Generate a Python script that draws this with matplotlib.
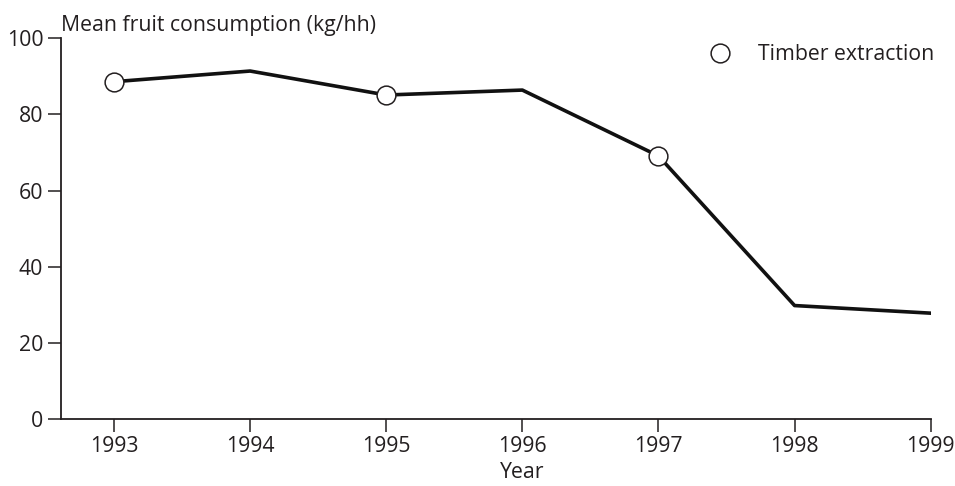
import matplotlib.pyplot as plt
from matplotlib.lines import Line2D

years = [1993, 1994, 1995, 1996, 1997, 1998, 1999]
consumption = [88.6, 91.4, 85.1, 86.4, 69.1, 29.8, 27.8]
timber_years = [1993, 1995, 1997]
timber_values = [88.6, 85.1, 69.1]

ink = '#231f20'
fs = 15.3
plt.rcParams['font.family'] = ['Open Sans', 'DejaVu Sans']
plt.rcParams['font.size'] = fs

fig = plt.figure(figsize=(9.55, 4.86), dpi=100)
ax = fig.add_axes([60.7 / 955, 1 - 419 / 486, 870 / 955, (419 - 38.3) / 486])

ax.plot(years, consumption, color='#111111', lw=2.6, zorder=2)
ax.plot(timber_years, timber_values, ls='none', marker='o', ms=13.5,
        mfc='white', mec=ink, mew=1.1, zorder=3)

ax.set_xlim(1993 - 53.3 / 136.1, 1999)
ax.set_ylim(0, 100)
ax.set_xticks(years)
ax.set_yticks([0, 20, 40, 60, 80, 100])

for side in ['top', 'right']:
    ax.spines[side].set_visible(False)
for side in ['left', 'bottom']:
    ax.spines[side].set_color(ink)
    ax.spines[side].set_linewidth(1.3)
ax.tick_params(length=9.5, width=1.1, color=ink, labelcolor=ink, labelsize=fs)
ax.tick_params(axis='y', pad=3)
ax.tick_params(axis='x', pad=2.5)

ax.text(0.0, 1.005, 'Mean fruit consumption (kg/hh)', transform=ax.transAxes,
        ha='left', va='bottom', color=ink, fontsize=fs)
ax.text(1996, -0.14, 'Year', transform=ax.get_xaxis_transform(),
        ha='center', va='center', color=ink, fontsize=fs)

handle = Line2D([], [], ls='none', marker='o', ms=13.5, mfc='white', mec=ink, mew=1.1)
ax.legend([handle], ['Timber extraction'], frameon=False, loc='center left',
          bbox_to_anchor=(709 / 955, 1 - 55 / 486), bbox_transform=fig.transFigure,
          borderpad=0, borderaxespad=0, handlelength=1.0, handletextpad=1.3,
          labelcolor=ink, fontsize=fs)

fig.savefig('out.png', dpi=100)
